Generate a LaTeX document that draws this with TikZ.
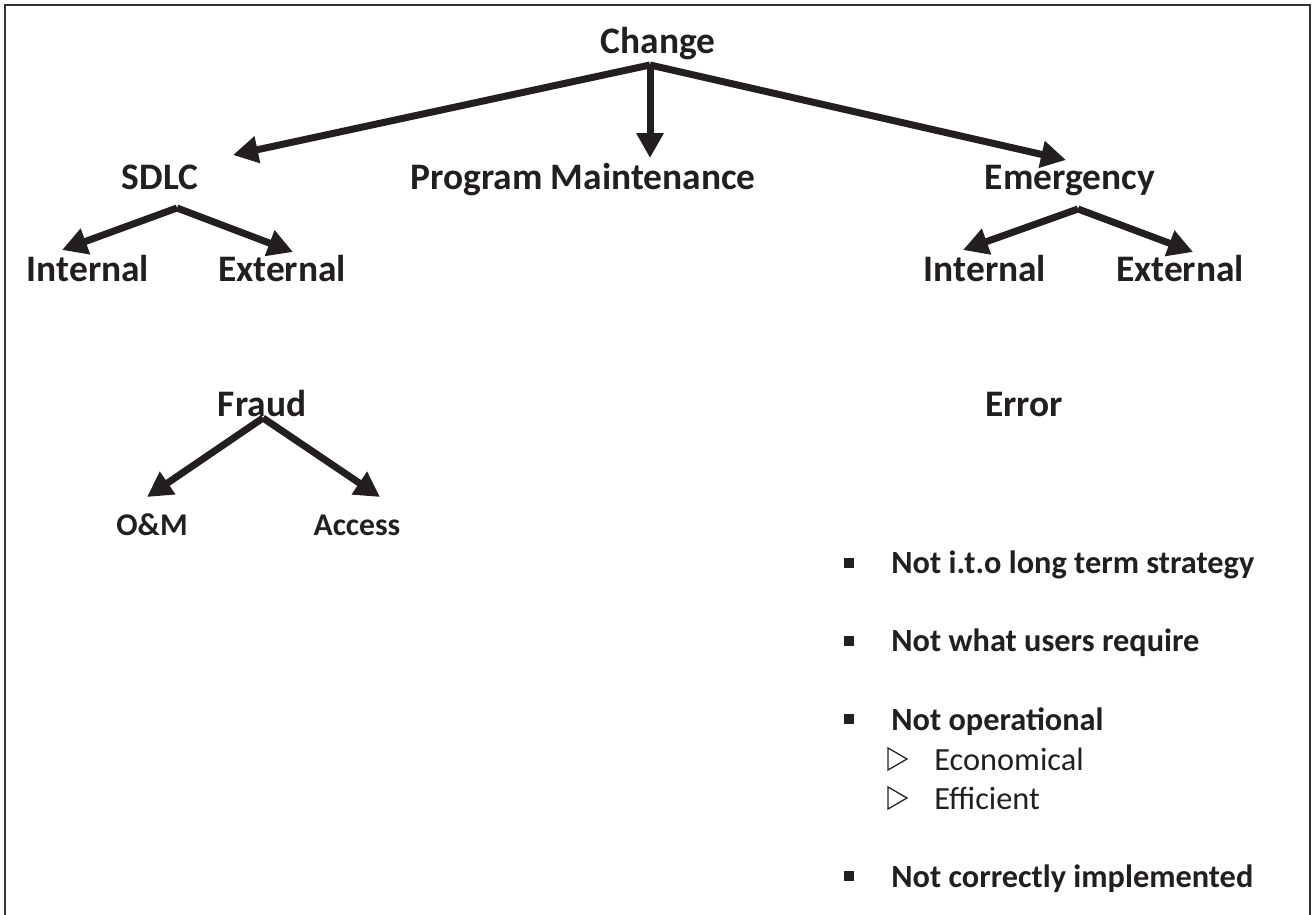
\documentclass[tikz,border=0pt]{standalone}
\usepackage{fontspec}
\setmainfont{Carlito}
\usetikzlibrary{arrows.meta}
\definecolor{ink}{RGB}{35,31,32}

\tikzset{
  lbl/.style={font=\bfseries\fontsize{21.3}{25}\selectfont,text=ink,anchor=base,inner sep=0pt},
  smalllbl/.style={font=\bfseries\fontsize{18}{22}\selectfont,text=ink,anchor=base,inner sep=0pt},
  item/.style={font=\bfseries\fontsize{18.4}{22}\selectfont,text=ink,anchor=base west,inner sep=0pt},
  subitem/.style={font=\fontsize{18.4}{22}\selectfont,text=ink,anchor=base west,inner sep=0pt},
  arr/.style={-{Triangle[length=0.5cm,width=0.52cm]},line width=0.14cm,draw=ink}
}

\begin{document}
\begin{tikzpicture}[x=0.02cm,y=-0.02cm]
			\useasboundingbox (0,0) rectangle (1313,915);
			% frame
			\draw[line width=0.05cm,black!80] (5,915) -- (5,5) -- (1310,5) -- (1310,915);
			
			\node[lbl] (Change) at (658,54) {Change};
			\node[lbl] (SDLC) at (160,190) {SDLC};
			\node[lbl] (ProgMaint) at (583,190) {Program Maintenance};
			\node[lbl] (Emergency) at (1070,190) {Emergency};
			\node[lbl] (SdlcInt) at (88,282) {Internal};
			\node[lbl] (SdlcExt) at (282,282) {External};
			\node[lbl] (EmInt) at (985,282) {Internal};
			\node[lbl] (EmExt) at (1180,282) {External};
			\node[lbl] (Fraud) at (262,417) {Fraud};
			\node[lbl] (Error) at (1024,417) {Error};
			\node[smalllbl] (OM) at (152,536) {O\&M};
			\node[smalllbl] (Access) at (357,536) {Access};
			
			\coordinate (ChangeRoot) at (650,65);
			\coordinate (SdlcRoot) at (177,208);
			\coordinate (EmRoot) at (1078,209);
			\coordinate (FraudRoot) at (263,418);
			\coordinate (SdlcTip) at (233,155);
			\coordinate (ProgTip) at (650,158);
			\coordinate (EmTip) at (1066,160);
			\coordinate (SdlcIntTip) at (62,250);
			\coordinate (SdlcExtTip) at (293,252);
			\coordinate (EmIntTip) at (963,250);
			\coordinate (EmExtTip) at (1193,252);
			\coordinate (OMTip) at (147,497);
			\coordinate (AccessTip) at (380,497);
			
			\draw[arr] (ChangeRoot) to (SdlcTip);
			\draw[arr] (ChangeRoot) to (ProgTip);
			\draw[arr] (ChangeRoot) to (EmTip);
			\draw[arr] (SdlcRoot) to (SdlcIntTip);
			\draw[arr] (SdlcRoot) to (SdlcExtTip);
			\draw[arr] (EmRoot) to (EmIntTip);
			\draw[arr] (EmRoot) to (EmExtTip);
			\draw[arr] (FraudRoot) to (OMTip);
			\draw[arr] (FraudRoot) to (AccessTip);
			
			% error list
			\node[item] (ErrA) at (891,574) {Not i.t.o long term strategy};
			\node[item] (ErrB) at (891,652) {Not what users require};
			\node[item] (ErrC) at (891,730) {Not operational};
			\node[subitem] (ErrCa) at (934,770) {Economical};
			\node[subitem] (ErrCb) at (934,809) {Efficient};
			\node[item] (ErrD) at (891,887) {Not correctly implemented};
			\foreach \y in {563,641,719,876}
				\fill[ink] (844,\y-5) rectangle (854,\y+5);
			\foreach \y in {759,798}
				\draw[ink,line width=0.025cm,line join=miter] (888,\y-11) -- (907,\y) -- (888,\y+11) -- cycle;
			
			\end{tikzpicture}
\end{document}
